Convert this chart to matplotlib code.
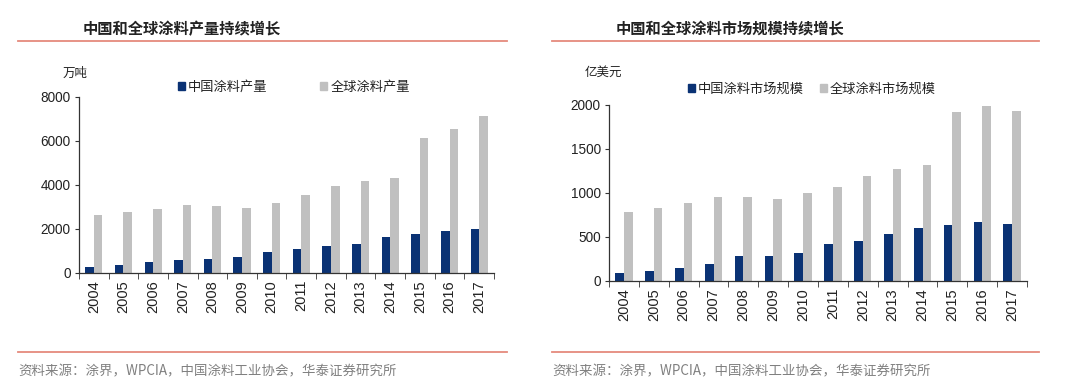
import matplotlib

matplotlib.use("Agg")
import matplotlib.pyplot as plt
from matplotlib.lines import Line2D
from matplotlib.patches import Patch

plt.rcParams["font.family"] = ["Noto Sans CJK SC", "DejaVu Sans"]

years = [str(y) for y in range(2004, 2018)]

# 万吨
china_output = [280, 350, 485, 590, 636, 727, 955, 1106, 1242, 1303, 1636, 1757, 1894, 2015]
global_output = [2651, 2772, 2924, 3075, 3060, 2970, 3181, 3530, 3969, 4166, 4318, 6136, 6545, 7151]

# 亿美元
china_market = [87, 110, 144, 197, 280, 280, 314, 420, 451, 530, 598, 633, 670, 644]
global_market = [780, 830, 886, 951, 955, 932, 1000, 1064, 1197, 1273, 1322, 1917, 1989, 1928]

BLUE = "#0A3274"
GREY = "#C0C0C0"
RED = "#E58A7D"
NUM_FONT = "Liberation Sans"

W, H = 1080, 390


def fx(px):
    return px / W


def fy(py):
    return 1 - py / H


def panel(fig, rect, china, world, ymax, ystep, labels, unit, unit_xy,
          title, title_x, line_x, leg_center, colspace):
    ax = fig.add_axes(rect)
    x = list(range(len(years)))
    w = 0.29
    ax.bar([i - w / 2 for i in x], china, width=w, color=BLUE, label=labels[0])
    ax.bar([i + w / 2 for i in x], world, width=w, color=GREY, label=labels[1])
    ax.set_xlim(-0.5, len(years) - 0.5)
    ax.set_ylim(0, ymax)
    ax.set_yticks(range(0, ymax + 1, ystep))
    ax.set_yticklabels([str(v) for v in range(0, ymax + 1, ystep)],
                       fontsize=9.8, family=NUM_FONT, color="#222222")
    ax.set_xticks(x)
    ax.set_xticklabels(years, rotation=90, fontsize=10.5, family=NUM_FONT, color="#222222")
    ax.set_xticks([i - 0.5 for i in range(len(years) + 1)], minor=True)
    ax.tick_params(axis="x", which="major", length=0, pad=5)
    ax.tick_params(axis="x", which="minor", length=4, direction="out", color="#333333")
    ax.tick_params(axis="y", length=3, direction="out", color="#333333", pad=3)
    for s in ("top", "right"):
        ax.spines[s].set_visible(False)
    for s in ("left", "bottom"):
        ax.spines[s].set_color("#333333")
        ax.spines[s].set_linewidth(0.9)

    handles = [Patch(color=BLUE), Patch(color=GREY)]
    fig.legend(handles, labels, loc="center", bbox_to_anchor=(fx(leg_center[0]), fy(leg_center[1])),
               ncol=2, frameon=False, fontsize=9.5, handlelength=0.5, handleheight=0.5,
               handletextpad=0.25, columnspacing=colspace, labelcolor="#222222")

    fig.text(fx(unit_xy[0]), fy(unit_xy[1]), unit, fontsize=9, ha="center", va="center",
             color="#222222")
    fig.text(fx(title_x), fy(29), title, fontsize=11, fontweight="bold", ha="left",
             va="center", color="#222222")
    for yy in (41, 352):
        fig.add_artist(Line2D([fx(line_x[0]), fx(line_x[1])], [fy(yy), fy(yy)],
                              color=RED, lw=1.3, transform=fig.transFigure))
    fig.text(fx(line_x[0]), fy(371), "资料来源：涂界，WPCIA，中国涂料工业协会，华泰证券研究所",
             fontsize=9.7, ha="left", va="center", color="#808080")
    return ax


fig = plt.figure(figsize=(W / 100, H / 100), dpi=100)

panel(fig, [fx(79), fy(273), fx(494 - 79), (273 - 97) / H],
      china_output, global_output, 8000, 2000,
      ["中国涂料产量", "全球涂料产量"], "万吨", (75, 73),
      "中国和全球涂料产量持续增长", 83, (18, 507), (294, 87), 4.0)

panel(fig, [fx(609), fy(281), fx(1027 - 609), (281 - 105) / H],
      china_market, global_market, 2000, 500,
      ["中国涂料市场规模", "全球涂料市场规模"], "亿美元", (603, 72),
      "中国和全球涂料市场规模持续增长", 616, (552, 1039), (812, 89), 1.2)

fig.savefig("out.png", dpi=100)
